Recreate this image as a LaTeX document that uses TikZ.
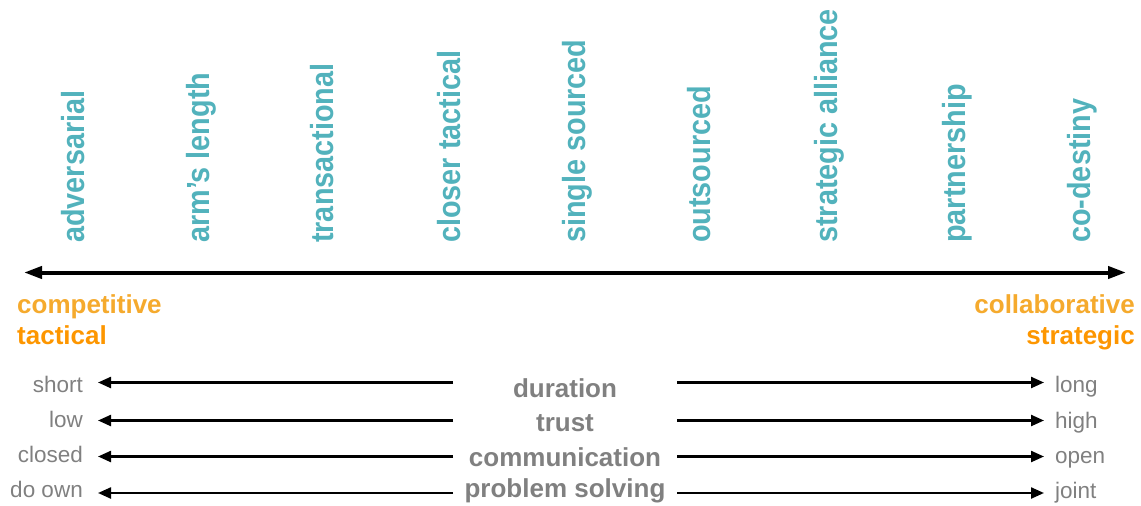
\documentclass[tikz,border=0pt]{standalone}
\usepackage{fontspec}
\setmainfont{Liberation Sans}
\usepackage{graphicx}
\usepackage{tikz}
\usetikzlibrary{arrows.meta}
\definecolor{stageteal}{RGB}{82,178,188}
\definecolor{poleyellow}{RGB}{245,170,45}
\definecolor{poleorange}{RGB}{253,150,0}
\definecolor{aspectgray}{RGB}{128,128,128}
\newcommand{\stagetext}[1]{\scalebox{0.9}[1]{#1}}
\tikzset{
  stage/.style = {rotate=90, anchor=base west, inner sep=0pt,
    text=stageteal, font=\fontsize{32}{32}\selectfont\bfseries},
  pole/.style = {inner sep=0pt, font=\fontsize{26}{26}\selectfont\bfseries},
  aspect/.style = {inner sep=0pt, anchor=base, text=aspectgray,
    font=\fontsize{26}{26}\selectfont\bfseries},
  endlabel/.style = {inner sep=0pt, text=aspectgray,
    font=\fontsize{22.5}{22.5}\selectfont},
  mainaxis/.style = {line width=4pt,
    {Triangle[length=18pt,width=12pt]}-{Triangle[length=18pt,width=12pt]}},
  gauge/.style = {line width=2.3pt, -{Triangle[length=13pt,width=11pt]}}
}
\begin{document}
\begin{tikzpicture}[x=1pt, y=-1pt]
\useasboundingbox (0,0) rectangle (1141,506);
% relationship stages
\node [stage] (adversarial) at (84,243) {\stagetext{adversarial}};
\node [stage] (armslength) at (209,243) {\stagetext{arm’s length}};
\node [stage] (transactional) at (333,243) {\stagetext{transactional}};
\node [stage] (closertactical) at (460,243) {\stagetext{closer tactical}};
\node [stage] (singlesourced) at (585,243) {\stagetext{single sourced}};
\node [stage] (outsourced) at (710,243) {\stagetext{outsourced}};
\node [stage] (alliance) at (837,243) {\stagetext{strategic alliance}};
\node [stage] (partnership) at (965,243) {\stagetext{partnership}};
\node [stage] (codestiny) at (1090,243) {\stagetext{co-destiny}};
% main axis
\coordinate (axisW) at (24,272.5);
\coordinate (axisE) at (1126,272.5);
\draw [mainaxis] (axisW) -- (axisE);
% poles
\node [pole, text=poleyellow, anchor=base west] (competitive) at (17,313) {competitive};
\node [pole, text=poleorange, anchor=base west] (tactical) at (17,344) {tactical};
\node [pole, text=poleyellow, anchor=base east] (collaborative) at (1135,313) {collaborative};
\node [pole, text=poleorange, anchor=base east] (strategic) at (1135,344) {strategic};
% aspects
\node [aspect] (duration) at (565,397) {duration};
\node [aspect] (trust) at (565,431) {trust};
\node [aspect] (communication) at (565,466) {communication};
\node [aspect] (problemsolving) at (565,497) {problem solving};
\node [endlabel, anchor=base east] (short) at (83,392) {short};
\node [endlabel, anchor=base east] (low) at (83,427.5) {low};
\node [endlabel, anchor=base east] (closed) at (83,462.5) {closed};
\node [endlabel, anchor=base east] (doown) at (83,497.5) {do own};
\node [endlabel, anchor=base west] (long) at (1055,392.5) {long};
\node [endlabel, anchor=base west] (high) at (1055,428) {high};
\node [endlabel, anchor=base west] (open) at (1055,463) {open};
\node [endlabel, anchor=base west] (joint) at (1055,498) {joint};
% aspect arrows
\coordinate (durW) at (453,382.5);  \coordinate (durE) at (677,382.5);
\coordinate (truW) at (453,420.5);  \coordinate (truE) at (677,420.5);
\coordinate (comW) at (453,456.5);  \coordinate (comE) at (677,456.5);
\coordinate (proW) at (453,493);    \coordinate (proE) at (677,493);
\coordinate (shortTip) at (98,382.5);  \coordinate (longTip) at (1044,382.5);
\coordinate (lowTip) at (98,420.5);    \coordinate (highTip) at (1044,420.5);
\coordinate (closedTip) at (98,456.5); \coordinate (openTip) at (1044,456.5);
\coordinate (ownTip) at (98,493);      \coordinate (jointTip) at (1044,493);
\draw [gauge] (durW) -- (shortTip);
\draw [gauge] (durE) -- (longTip);
\draw [gauge] (truW) -- (lowTip);
\draw [gauge] (truE) -- (highTip);
\draw [gauge] (comW) -- (closedTip);
\draw [gauge] (comE) -- (openTip);
\draw [gauge] (proW) -- (ownTip);
\draw [gauge] (proE) -- (jointTip);
\end{tikzpicture}
\end{document}
